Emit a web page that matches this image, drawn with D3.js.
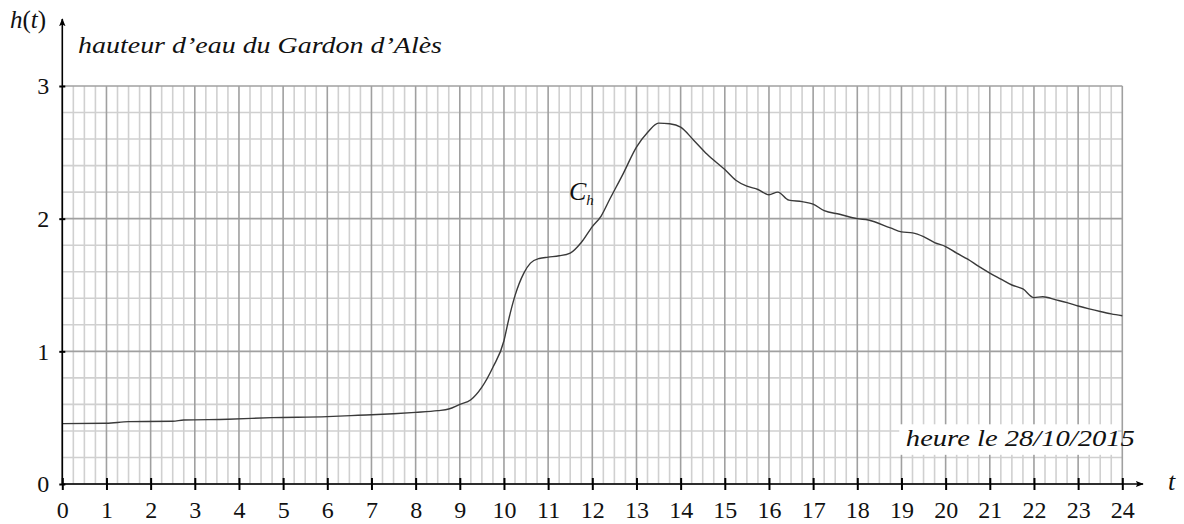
<!DOCTYPE html>
<html>
<head>
<meta charset="utf-8">
<script src="https://cdn.jsdelivr.net/npm/d3@7"></script>
<style>
body { margin: 0; background: #fff; }
svg { display: block; }
.minor { stroke: #d0d0d0; stroke-width: 1.6; }
.major { stroke: #a0a0a0; stroke-width: 1.6; }
</style>
</head>
<body>
<script>
//hauteur d'eau du Gardon d'Alès, 28/10/2015

//pseudo global data: hours and water height
var hours = [0, 1, 1.5, 2.5, 2.75, 3.75, 4.75, 6, 6.7, 7.5, 8, 8.5, 8.75, 9, 9.25, 9.5, 9.75,
    10, 10.1, 10.25, 10.45, 10.6, 10.8, 11, 11.25, 11.5, 11.75, 12, 12.2, 12.4, 12.7, 13, 13.25,
    13.5, 13.75, 14, 14.3, 14.6, 15, 15.25, 15.5, 15.75, 16, 16.2, 16.45, 16.75, 17, 17.25, 17.6,
    18, 18.25, 18.75, 19, 19.25, 19.5, 19.75, 20, 20.25, 20.5, 20.75, 21, 21.25, 21.5, 21.75,
    22, 22.2, 22.5, 22.75, 23, 23.25, 23.5, 23.75, 24];
var heights = [0.455, 0.458, 0.47, 0.473, 0.482, 0.488, 0.5, 0.508, 0.518, 0.53, 0.54, 0.553, 0.565, 0.6, 0.635, 0.73, 0.88,
    1.08, 1.23, 1.42, 1.59, 1.665, 1.70, 1.71, 1.72, 1.74, 1.82, 1.94, 2.02, 2.15, 2.34, 2.54, 2.65,
    2.72, 2.715, 2.69, 2.59, 2.485, 2.37, 2.29, 2.245, 2.22, 2.18, 2.20, 2.14, 2.128, 2.11, 2.06, 2.033,
    2.0, 1.99, 1.93, 1.90, 1.893, 1.865, 1.82, 1.79, 1.74, 1.695, 1.64, 1.59, 1.545, 1.50, 1.47,
    1.405, 1.412, 1.388, 1.367, 1.342, 1.32, 1.30, 1.282, 1.268];
var xTicks = d3.range(0, 25, 1);
var yTicks = [0, 1, 2, 3];

var serif = "'Liberation Serif'";

//frame dimensions
var width = 1184,
    height = 524,
    x0 = 62.3, x1 = 1122.3,
    y0 = 484, y1 = 86;

var x = d3.scaleLinear().domain([0, 24]).range([x0, x1]);
var y = d3.scaleLinear().domain([0, 3]).range([y0, y1]);

var svg = d3.select("body")
    .append("svg")
    .attr("width", width)
    .attr("height", height);

//grid: minor lines every quarter hour and every 0.2 m, major every hour and every metre
var grid = svg.append("g");
grid.selectAll(".vminor")
    .data(d3.range(0, 97).filter(function(i){ return i % 4 != 0; }).map(function(i){ return i / 4; }))
    .enter().append("line")
    .attr("class", "minor")
    .attr("x1", function(d){ return x(d); }).attr("x2", function(d){ return x(d); })
    .attr("y1", y(0)).attr("y2", y(3));
grid.selectAll(".hminor")
    .data(d3.range(0, 16).filter(function(i){ return i % 5 != 0; }).map(function(i){ return i / 5; }))
    .enter().append("line")
    .attr("class", "minor")
    .attr("x1", x(0)).attr("x2", x(24))
    .attr("y1", function(d){ return y(d); }).attr("y2", function(d){ return y(d); });
grid.selectAll(".vmajor")
    .data(xTicks)
    .enter().append("line")
    .attr("class", "major")
    .attr("x1", function(d){ return x(d); }).attr("x2", function(d){ return x(d); })
    .attr("y1", y(0)).attr("y2", y(3));
grid.selectAll(".hmajor")
    .data(yTicks)
    .enter().append("line")
    .attr("class", "major")
    .attr("x1", x(0)).attr("x2", x(24))
    .attr("y1", function(d){ return y(d); }).attr("y2", function(d){ return y(d); });

//white box behind the date label
svg.append("rect")
    .attr("x", x(18.95)).attr("y", y(0.45))
    .attr("width", x(23.9) - x(18.95)).attr("height", y(0.22) - y(0.45))
    .attr("fill", "#fff");
svg.append("text")
    .attr("x", x(19.1)).attr("y", 446)
    .attr("font-family", serif)
    .attr("font-size", 23)
    .attr("font-style", "italic")
    .attr("fill", "#111")
    .attr("textLength", 229)
    .attr("lengthAdjust", "spacingAndGlyphs")
    .text("heure le 28/10/2015");

//the curve
var pts = hours.map(function(t, i){ return [t, heights[i]]; });
var line = d3.line()
    .x(function(d){ return x(d[0]); })
    .y(function(d){ return y(d[1]); })
    .curve(d3.curveMonotoneX);
svg.append("path")
    .datum(pts)
    .attr("d", line)
    .attr("fill", "none")
    .attr("stroke", "#3a3a3a")
    .attr("stroke-width", 1.4);

//arrow marker for the axes
svg.append("defs").append("marker")
    .attr("id", "arrow")
    .attr("viewBox", "0 0 10 10")
    .attr("refX", 9).attr("refY", 5)
    .attr("markerWidth", 8).attr("markerHeight", 8)
    .attr("markerUnits", "userSpaceOnUse")
    .attr("orient", "auto")
    .append("path")
    .attr("d", "M0,1 L10,5 L0,9 L2,5 Z")
    .attr("fill", "#000");

//x axis with ticks crossing the line
var xAxis = d3.axisBottom(x).tickValues(xTicks).tickSize(6).tickPadding(8).tickFormat(d3.format("d"));
var gx = svg.append("g")
    .attr("transform", "translate(0," + y0 + ")")
    .call(xAxis)
    .attr("font-family", serif)
    .attr("font-size", 24);
gx.select(".domain").remove();
gx.selectAll(".tick line").attr("y1", -6).attr("stroke", "#000").attr("stroke-width", 2);
gx.selectAll(".tick text")
    .attr("fill", "#111")
    .attr("dy", "0.85em");

var yAxis = d3.axisLeft(y).tickValues(yTicks).tickSize(3).tickPadding(10).tickFormat(d3.format("d"));
var gy = svg.append("g")
    .attr("transform", "translate(" + x0 + ",0)")
    .call(yAxis)
    .attr("font-family", serif)
    .attr("font-size", 24);
gy.select(".domain").remove();
gy.selectAll(".tick line").attr("x2", 3).attr("x1", -3).attr("stroke", "#000").attr("stroke-width", 2);
gy.selectAll(".tick text")
    .attr("fill", "#111")
    .attr("dy", "0.32em");

svg.append("line")
    .attr("x1", x0).attr("y1", y0).attr("x2", 1143).attr("y2", y0)
    .attr("stroke", "#000").attr("stroke-width", 1.6)
    .attr("marker-end", "url(#arrow)");
svg.append("line")
    .attr("x1", x0).attr("y1", y0).attr("x2", x0).attr("y2", 19)
    .attr("stroke", "#000").attr("stroke-width", 1.6)
    .attr("marker-end", "url(#arrow)");

//axis names and titles
var ht = svg.append("text").attr("x", 10).attr("y", 28)
    .attr("font-family", serif).attr("font-size", 25).attr("fill", "#111");
ht.append("tspan").attr("font-style", "italic").text("h");
ht.append("tspan").text("(");
ht.append("tspan").attr("font-style", "italic").text("t");
ht.append("tspan").text(")");

svg.append("text")
    .attr("x", 1168).attr("y", 490)
    .attr("font-family", serif)
    .attr("font-size", 26)
    .attr("font-style", "italic")
    .attr("fill", "#111")
    .text("t");

svg.append("text")
    .attr("x", 78).attr("y", 53)
    .attr("font-family", serif)
    .attr("font-size", 23)
    .attr("font-style", "italic")
    .attr("fill", "#111")
    .attr("textLength", 364)
    .attr("lengthAdjust", "spacingAndGlyphs")
    .text("hauteur d’eau du Gardon d’Alès");

var ch = svg.append("text").attr("x", 569).attr("y", 200)
    .attr("font-family", serif).attr("font-size", 26).attr("font-style", "italic").attr("fill", "#111");
ch.append("tspan").text("C");
ch.append("tspan").attr("font-size", 15).attr("dy", 5).text("h");
</script>
</body>
</html>
